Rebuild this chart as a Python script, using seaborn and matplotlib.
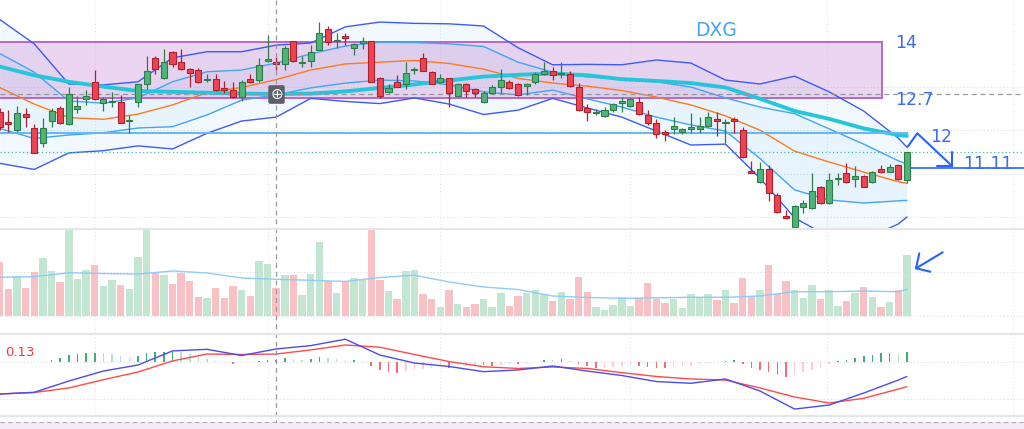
import matplotlib
matplotlib.use('Agg')
import numpy as np
import matplotlib.pyplot as plt
import seaborn as sns
from matplotlib.patches import Rectangle
from matplotlib.lines import Line2D

W, H = 1024, 429

# ---- daily candles (bar 0 .. 105) ----
opens = [12.42, 12.18, 12.00, 12.38, 12.04, 11.70, 12.21, 12.52, 12.14, 12.48,
         12.71, 13.10, 12.63, 12.64, 12.65, 12.21, 12.65, 13.06, 13.65, 13.19,
         13.80, 13.57, 13.40, 13.37, 13.14, 13.18, 12.97, 12.92, 12.75, 13.18,
         13.14, 13.59, 13.57, 13.51, 14.05, 13.53, 13.59, 13.84, 14.31, 14.05,
         14.16, 13.89, 13.99, 14.05, 13.20, 12.87, 13.10, 13.06, 13.38, 13.65,
         13.34, 13.10, 13.19, 12.78, 13.06, 12.94, 12.65, 12.85, 13.00, 13.10,
         13.06, 13.01, 13.11, 13.30, 13.36, 13.30, 13.30, 12.98, 12.50, 12.39,
         12.33, 12.46, 12.62, 12.55, 12.65, 12.35, 12.16, 11.95, 12.02, 11.96,
         12.02, 12.02, 12.10, 12.25, 12.16, 12.25, 12.00, 11.06, 10.82, 11.10,
         10.51, 10.04, 9.79, 10.25, 10.21, 10.70, 10.32, 10.87, 11.01, 10.87,
         10.96, 10.82, 11.10, 11.05, 11.20, 10.86]
highs = [12.51, 12.46, 12.56, 12.52, 12.14, 12.27, 12.50, 12.55, 13.00, 12.78,
         12.92, 13.38, 12.75, 12.88, 12.81, 12.35, 13.06, 13.71, 13.70, 13.86,
         13.82, 13.86, 13.42, 13.42, 13.30, 13.30, 13.13, 13.11, 13.15, 13.30,
         13.66, 14.18, 13.67, 13.93, 14.05, 13.70, 13.95, 14.49, 14.39, 14.22,
         14.22, 14.01, 14.14, 14.05, 13.23, 13.07, 13.27, 13.57, 13.46, 13.76,
         13.36, 13.30, 13.20, 13.09, 13.08, 12.96, 12.91, 13.04, 13.40, 13.15,
         13.08, 13.08, 13.34, 13.56, 13.44, 13.56, 13.36, 13.09, 12.59, 12.48,
         12.54, 12.62, 12.75, 12.73, 12.75, 12.46, 12.25, 12.00, 12.30, 12.05,
         12.40, 12.30, 12.42, 12.42, 12.25, 12.30, 12.08, 11.30, 11.28, 11.20,
         10.57, 10.17, 10.28, 10.41, 11.01, 10.72, 11.01, 11.01, 11.24, 11.18,
         10.97, 11.06, 11.20, 11.22, 11.22, 11.51]
lows = [12.00, 11.97, 11.97, 12.08, 11.47, 11.62, 12.08, 12.15, 12.12, 12.39,
        12.58, 12.69, 12.45, 12.54, 12.16, 11.93, 12.54, 12.94, 13.28, 13.17,
        13.44, 13.38, 13.00, 13.09, 13.11, 12.90, 12.86, 12.73, 12.68, 13.08,
        13.11, 13.57, 13.38, 13.38, 13.57, 13.44, 13.46, 13.84, 13.95, 13.89,
        13.95, 13.72, 13.86, 13.10, 12.73, 12.85, 13.00, 12.94, 13.28, 13.36,
        13.05, 13.08, 12.54, 12.75, 12.77, 12.75, 12.62, 12.83, 12.86, 12.94,
        12.79, 12.81, 13.06, 13.27, 13.15, 13.19, 13.00, 12.45, 12.21, 12.35,
        12.31, 12.42, 12.42, 12.54, 12.35, 12.12, 11.81, 11.76, 11.91, 11.91,
        11.94, 11.94, 12.07, 11.87, 11.71, 11.94, 11.36, 11.01, 10.80, 10.38,
        10.11, 9.96, 9.77, 10.09, 10.19, 10.31, 10.31, 10.74, 10.80, 10.70,
        10.69, 10.80, 11.01, 11.03, 10.86, 10.78]
closes = [12.08, 12.14, 12.39, 12.31, 11.48, 12.04, 12.44, 12.17, 12.82, 12.56,
          12.78, 12.71, 12.71, 12.65, 12.17, 12.23, 13.06, 13.36, 13.40, 13.57,
          13.51, 13.40, 13.32, 13.10, 13.18, 12.92, 12.92, 12.75, 13.11, 13.10,
          13.50, 13.63, 13.51, 13.88, 13.59, 13.57, 13.80, 14.22, 14.03, 14.07,
          14.11, 13.98, 14.05, 13.10, 12.78, 12.97, 13.00, 13.32, 13.40, 13.36,
          13.06, 13.19, 12.86, 13.06, 12.90, 12.86, 12.85, 13.00, 13.15, 12.96,
          12.81, 13.06, 13.30, 13.36, 13.27, 13.32, 13.01, 12.46, 12.41, 12.42,
          12.46, 12.60, 12.67, 12.71, 12.37, 12.16, 11.91, 11.91, 12.10, 12.02,
          12.07, 12.10, 12.30, 12.21, 12.19, 12.21, 11.38, 11.01, 11.10, 10.57,
          10.12, 9.99, 10.26, 10.32, 10.61, 10.32, 10.86, 10.91, 10.82, 10.96,
          10.70, 11.05, 11.05, 11.16, 10.87, 11.49]
# volume, millions
volumes = [6.14, 3.05, 4.61, 3.20, 5.03, 6.67, 5.15, 3.89, 10.5, 4.23,
           5.26, 5.83, 3.47, 4.12, 3.55, 3.05, 6.78, 10.5, 4.95, 4.73,
           3.63, 4.95, 3.97, 2.17, 2.02, 3.20, 2.02, 3.43, 2.94, 2.32,
           6.26, 5.98, 3.20, 4.73, 4.73, 2.40, 4.80, 8.47, 4.00, 2.63,
           3.97, 4.31, 4.23, 10.5, 4.12, 2.89, 1.91, 5.15, 5.23, 2.52,
           1.91, 1.00, 3.01, 1.37, 1.06, 1.37, 1.98, 1.00, 2.60, 1.14,
           2.29, 2.60, 3.01, 2.52, 1.68, 2.75, 1.91, 4.46, 2.75, 1.00,
           0.69, 1.22, 2.14, 1.14, 2.02, 3.78, 1.98, 1.49, 1.98, 0.88,
           2.52, 2.21, 2.52, 1.83, 2.94, 1.49, 4.35, 2.32, 2.94, 5.83,
           2.52, 4.00, 3.01, 2.06, 3.51, 1.91, 2.94, 1.14, 1.68, 2.63,
           3.28, 2.17, 1.03, 1.60, 2.94, 6.94]
macd_hist = [0, 0, 0.003, 0.003, 0, 0, 0.022, 0.032, 0.059, 0.070,
             0.076, 0.078, 0.073, 0.065, 0.051, 0.038, 0.054, 0.076, 0.081, 0.081,
             0.086, 0.081, 0.065, 0.046, 0.027, 0.014, 0.005, -0.014, -0.003, 0,
             0.008, 0.016, 0.016, 0.038, 0.027, 0.022, 0.027, 0.041, 0.032, 0.027,
             0.022, 0.022, 0.014, -0.032, -0.059, -0.081, -0.086, -0.068, -0.059, -0.054,
             -0.043, -0.032, -0.049, -0.032, -0.027, -0.022, -0.022, -0.027, -0.022, -0.016,
             -0.016, -0.008, 0, 0.022, 0.016, 0.027, 0.008, -0.011, -0.032, -0.049,
             -0.043, -0.038, -0.032, -0.022, -0.027, -0.038, -0.043, -0.049, -0.038, -0.032,
             -0.027, -0.016, -0.008, 0, 0.008, 0.016, -0.016, -0.043, -0.059, -0.081,
             -0.103, -0.119, -0.103, -0.081, -0.059, -0.043, -0.014, 0.008, 0.022, 0.038,
             0.049, 0.059, 0.073, 0.076, 0.070, 0.086]

# ---- indicator lines, read every 4th bar ----
line_idx = list(range(0, 105, 4)) + [105]
bb_outer_up = [14.54, 13.98, 13.06, 13.04, 13.11, 13.66, 13.80, 13.80, 13.95, 14.00,
               14.37, 14.48, 14.45, 14.44, 14.39, 13.89, 13.50, 13.51, 13.50, 13.61,
               13.54, 13.15, 13.06, 13.24, 12.88, 12.44, 11.82, 11.61]
bb_inner_up = [13.76, 13.33, 12.67, 12.62, 12.74, 13.11, 13.34, 13.38, 13.54, 13.75,
               13.93, 14.02, 14.01, 13.98, 13.92, 13.56, 13.33, 13.22, 13.19, 13.11,
               12.99, 12.74, 12.53, 12.38, 12.03, 11.68, 11.30, 11.22]
bb_basis = [12.98, 12.60, 12.29, 12.25, 12.37, 12.58, 12.86, 12.98, 13.16, 13.38,
            13.52, 13.56, 13.60, 13.53, 13.40, 13.19, 13.08, 13.01, 12.91, 12.76,
            12.58, 12.33, 12.00, 11.52, 11.27, 11.04, 10.82, 10.78]
bb_inner_low = [12.04, 11.81, 11.89, 11.94, 12.05, 12.08, 12.35, 12.69, 12.81, 12.97,
                13.08, 13.15, 13.13, 13.04, 12.88, 12.81, 12.92, 12.72, 12.53, 12.30,
                12.12, 11.98, 11.35, 10.63, 10.40, 10.33, 10.38, 10.39]
bb_outer_low = [11.24, 11.10, 11.48, 11.53, 11.64, 11.57, 11.93, 12.21, 12.30, 12.73,
                12.66, 12.61, 12.74, 12.60, 12.36, 12.46, 12.73, 12.51, 12.30, 11.98,
                11.66, 11.68, 10.90, 9.99, 9.55, 9.48, 9.85, 10.01]
ma_slow = [13.46, 13.26, 13.11, 13.00, 12.90, 12.88, 12.86, 12.84, 12.83, 12.84,
           12.89, 12.97, 13.05, 13.14, 13.23, 13.27, 13.30, 13.26, 13.17, 13.13,
           13.08, 12.98, 12.72, 12.44, 12.26, 12.04, 11.89, 11.87]
vol_ma = [4.43, 4.50, 4.95, 4.86, 4.80, 5.15, 4.92, 4.35, 4.20, 4.08,
          3.95, 4.40, 4.67, 3.89, 3.32, 3.03, 2.29, 2.12, 2.02, 2.08,
          2.14, 2.14, 2.29, 2.78, 2.78, 2.86, 2.78, 3.05]
macd_line = [-0.257, -0.243, -0.152, -0.071, -0.022, 0.092, 0.105, 0.055, 0.108, 0.135,
             0.187, 0.059, -0.006, -0.034, -0.076, -0.062, -0.030, -0.071, -0.107, -0.156,
             -0.170, -0.135, -0.233, -0.379, -0.346, -0.249, -0.144, -0.115]
signal_line = [-0.257, -0.245, -0.208, -0.141, -0.079, 0.011, 0.067, 0.063, 0.067, 0.100,
               0.140, 0.122, 0.063, 0.006, -0.036, -0.050, -0.038, -0.050, -0.084, -0.115,
               -0.135, -0.144, -0.208, -0.281, -0.330, -0.292, -0.217, -0.198]

# drawn levels
zone_top, zone_bottom = 14.02, 12.74
cross_price, cross_bar = 12.83, 32
level_resist = 11.94
level_dotted = 11.50
level_target = 11.13
month_bars = [11, 31, 51, 73, 95.7, 117.3]

sns.set_theme(style="white")
plt.rcParams['font.family'] = ['DejaVu Sans']

fig = plt.figure(figsize=(W / 100, H / 100), dpi=100)
fig.patch.set_facecolor('white')


def pane(top, bottom):
    ax = fig.add_axes([0, 1 - bottom / H, 1, (bottom - top) / H])
    ax.set_xlim(0.035, 118.55)
    ax.set_axis_off()
    ax.patch.set_alpha(0)
    for b in month_bars:
        ax.axvline(b, color='#E3E5EA', lw=0.8, ls=(0, (1, 2)), zorder=0)
    return ax


def fig_line(xs, ys, **kw):
    fig.add_artist(Line2D([x / W for x in xs], [1 - y / H for y in ys], **kw))


ax_p = pane(0, 228)
ax_v = pane(230, 333)
ax_m = pane(335, 415)
ax_p.set_ylim(9.757, 14.986)
ax_v.set_ylim(-1.945, 9.84)
ax_m.set_ylim(-0.427, 0.221)

o, h, l, c = map(np.array, (opens, highs, lows, closes))
x = np.arange(len(o))
up = c >= o

# ---------- price pane ----------
for lv in [10, 11, 12, 13]:
    ax_p.axhline(lv, color='#DADCE2', lw=0.8, ls=(0, (1, 2)), zorder=0)

ax_p.fill_between(line_idx, bb_outer_low, bb_outer_up, color='#2196F3', alpha=0.055, lw=0, zorder=1)
ax_p.fill_between(line_idx, bb_inner_low, bb_inner_up, color='#2196F3', alpha=0.05, lw=0, zorder=1)
ax_p.add_patch(Rectangle((-1, zone_bottom), 103.1, zone_top - zone_bottom,
                         facecolor='#CE93D8', alpha=0.38, edgecolor='none', zorder=1.5))
ax_p.add_patch(Rectangle((-1, zone_bottom), 103.1, zone_top - zone_bottom,
                         facecolor='none', edgecolor='#B868C8', lw=1.4, zorder=1.6))

for vals, col, lw in [(bb_outer_up, '#3D5AFE', 1.0), (bb_outer_low, '#3D5AFE', 1.0),
                      (bb_inner_up, '#42A5F5', 1.0), (bb_inner_low, '#42A5F5', 1.0),
                      (bb_basis, '#FF7A1A', 1.0), (ma_slow, '#26C6DA', 2.8)]:
    sns.lineplot(x=line_idx, y=vals, ax=ax_p, color=col, linewidth=lw, zorder=2)

ax_p.axhline(cross_price, color='#9598A1', lw=0.9, ls=(0, (4, 3)), zorder=2.2)
ax_p.hlines(level_resist, -1, 105.1, color='#64B5F6', lw=1.4, zorder=2.2)
ax_p.axhline(level_dotted, color='#4DB6AC', lw=0.9, ls=(0, (1, 2)), zorder=2.2)
ax_p.hlines(level_target, 105.1, 120, color='#2962FF', lw=1.2, zorder=2.2)

body_col = np.where(up, '#4FB37A', '#EE4352')
edge_col = np.where(up, '#2E7D48', '#B0202C')
ax_p.vlines(x, l, h, colors=edge_col, lw=0.9, zorder=3)
ax_p.bar(x, np.maximum(np.abs(c - o), 0.02), bottom=np.minimum(o, c), width=0.7,
         color=body_col, edgecolor=edge_col, linewidth=0.8, zorder=3.1)

# ---------- volume pane ----------
ax_v.axhline(5, color='#DADCE2', lw=0.8, ls=(0, (1, 2)), zorder=0)
ax_v.axhline(0, color='#DADCE2', lw=0.8, ls=(0, (1, 2)), zorder=0)
ax_v.bar(x, volumes, width=0.86, color=np.where(up, '#C2E6D2', '#F8C1C5'), lw=0, zorder=1)
sns.lineplot(x=line_idx, y=vol_ma, ax=ax_v, color='#90CAF9', linewidth=1.0, zorder=2)

# ---------- MACD pane ----------
ax_m.axhline(0, color='#DADCE2', lw=0.8, ls=(0, (1, 2)), zorder=0)
ax_m.axhline(-0.3, color='#DADCE2', lw=0.8, ls=(0, (1, 2)), zorder=0)
hist = np.array(macd_hist)
prev = np.concatenate([[0], hist[:-1]])
hcol = np.where(hist >= 0,
                np.where(hist >= prev, '#3DAE7A', '#B5E1CB'),
                np.where(hist <= prev, '#F26B76', '#FBCDD2'))
ax_m.bar(x, hist, width=0.18, color=hcol, lw=0, zorder=1)
sns.lineplot(x=line_idx, y=signal_line, ax=ax_m, color='#FF4A4A', linewidth=1.0, zorder=2)
sns.lineplot(x=line_idx, y=macd_line, ax=ax_m, color='#4B4BF0', linewidth=1.0, zorder=2.1)
fig.text(5 / W, 1 - 352 / H, '0.13', color='#F23645', fontsize=9.5, ha='left', va='center')

# ---------- separators, crosshair, drawings ----------
for yy in [229, 334, 416]:
    fig_line([0, W], [yy, yy], color='#E4E6EB', lw=1.6)
fig.add_artist(Rectangle((0, 0), 1, 1 - 422 / H, transform=fig.transFigure,
                         facecolor='#F4EAF6', edgecolor='none'))
fig_line([0, W], [422, 422], color='#A9ABB3', lw=0.8, ls=(0, (4, 3)))
fig_line([276.2, 276.2], [0, H], color='#9598A1', lw=0.9, ls=(0, (4, 3)), zorder=0.5)
fig.text(276.5 / W, 1 - 94.5 / H, '\u2295', color='white', fontsize=11, ha='center', va='center',
         bbox=dict(boxstyle='round,pad=0.12', fc='#5D606B', ec='none'))

blue = '#2962FF'
fig_line([907.7, 917.3, 951.7], [146.7, 133.3, 165.7], color=blue, lw=1.5)
fig_line([951.7, 951.7], [151.7, 165.7], color=blue, lw=1.5)
fig_line([936.7, 951.7], [165.7, 165.7], color=blue, lw=1.5)
fig_line([942.7, 916.0], [252.3, 268.3], color=blue, lw=1.5)
fig_line([919.3, 916.0, 930.3], [253.3, 268.3, 271.7], color=blue, lw=1.5)

fig.text(695 / W, 1 - 30 / H, 'DXG', color='#42A5F5', fontsize=13.5, ha='left', va='center')
fig.text(895 / W, 1 - 43.5 / H, '14', color='#3B6CF5', fontsize=12.5, ha='left', va='center')
fig.text(895 / W, 1 - 100 / H, '12.7', color='#3B6CF5', fontsize=12.5, ha='left', va='center')
fig.text(930 / W, 1 - 136.5 / H, '12', color='#3B6CF5', fontsize=12.5, ha='left', va='center')
fig.text(963 / W, 1 - 164 / H, '11.11', color='#3B6CF5', fontsize=12.5, ha='left', va='center')

fig.savefig('out.png', dpi=100, facecolor='white')
